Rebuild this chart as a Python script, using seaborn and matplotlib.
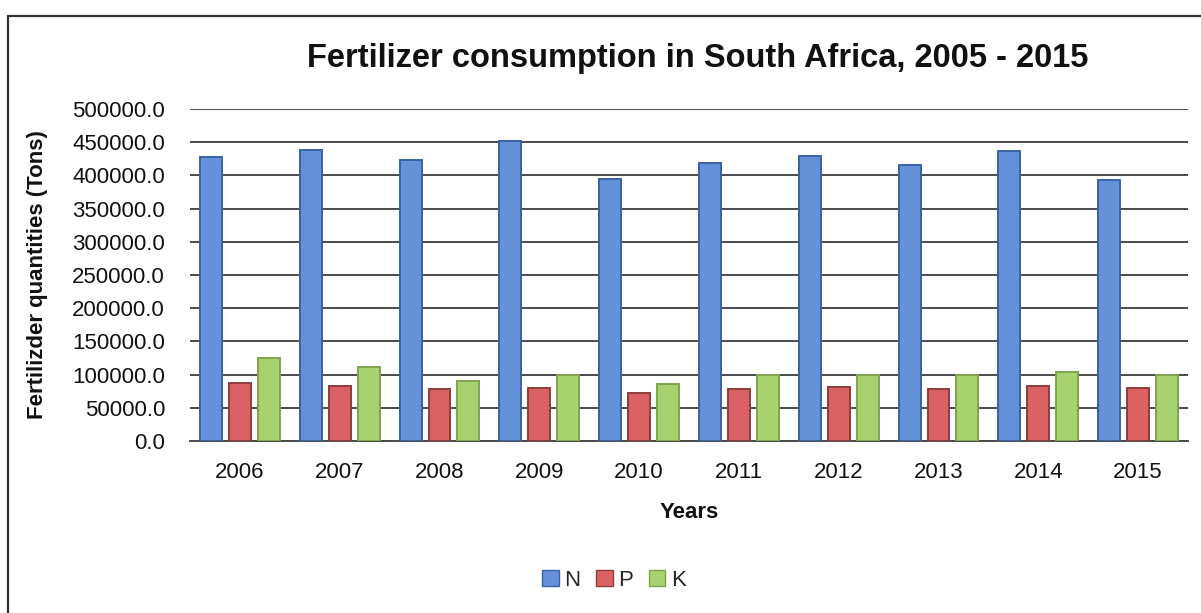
import matplotlib
matplotlib.use("Agg")
import matplotlib.pyplot as plt
from matplotlib.lines import Line2D
from matplotlib.patches import Patch
import seaborn as sns
import pandas as pd

years = ["2006", "2007", "2008", "2009", "2010", "2011", "2012", "2013", "2014", "2015"]
nitrogen = [428000, 438000, 423000, 452000, 394000, 418000, 429000, 416000, 437000, 393000]
phosphorus = [88000, 83000, 79000, 80000, 73000, 79000, 81000, 79000, 83000, 80000]
potassium = [125000, 112000, 90000, 99500, 86000, 100000, 100000, 100000, 104000, 100000]
nutrients = ["N", "P", "K"]
yticks = [0, 50000, 100000, 150000, 200000, 250000, 300000, 350000, 400000, 450000, 500000]

fill_colors = ["#6590DA", "#DA6264", "#A8D26E"]
edge_colors = ["#3A62A3", "#8E3C3B", "#80A350"]

df = pd.DataFrame({
    "Year": years * 3,
    "Nutrient": [n for n in nutrients for _ in years],
    "Tons": nitrogen + phosphorus + potassium,
})

sns.set_theme(style="white")
plt.rcParams["font.family"] = ["Liberation Sans", "DejaVu Sans"]

fig = plt.figure(figsize=(12.01, 6.13), dpi=100)
ax = fig.add_axes([190 / 1201, 1 - 441 / 613, 998 / 1201, 332 / 613])

sns.barplot(data=df, x="Year", y="Tons", hue="Nutrient", order=years,
            hue_order=nutrients, palette=fill_colors, width=0.87, gap=0.24,
            saturation=1, ax=ax, zorder=3)

for container, ec in zip(ax.containers, edge_colors):
    for bar in container:
        bar.set_edgecolor(ec)
        bar.set_linewidth(1.4)

ax.set_ylim(0, 500000)
ax.set_xlim(-0.5, len(years) - 0.5)
ax.set_yticks(yticks)
ax.set_yticklabels([f"{v:.1f}" for v in yticks], fontsize=16, color="#111111")
ax.tick_params(axis="x", labelsize=16, labelcolor="#111111", length=0, pad=15)
ax.tick_params(axis="y", length=0, pad=18)

ax.yaxis.grid(True, color="#4a4a4a", linewidth=1.4, zorder=0)
ax.set_axisbelow(True)
for side in ["top", "right", "left"]:
    ax.spines[side].set_visible(False)
ax.spines["bottom"].set_color("#4a4a4a")
ax.spines["bottom"].set_linewidth(1.4)

ax.set_xlabel("Years", fontsize=16, fontweight="bold", color="#111111", labelpad=14)
ax.set_ylabel("Fertilizder quantities (Tons)", fontsize=16, fontweight="bold",
              color="#111111")
ax.yaxis.set_label_coords(-(190 - 48) / 998, 0.5)

fig.text(698 / 1201, 1 - 58 / 613, "Fertilizer consumption in South Africa, 2005 - 2015",
         ha="center", va="center", fontsize=23.5, fontweight="bold", color="#111111")

if ax.legend_ is not None:
    ax.legend_.remove()
handles = [Patch(facecolor=fc, edgecolor=ec, linewidth=1.0)
           for fc, ec in zip(fill_colors, edge_colors)]
fig.legend(handles, nutrients, loc="center", bbox_to_anchor=(614 / 1201, 1 - 580 / 613),
           ncol=3, frameon=False, fontsize=16, handlelength=0.75, handleheight=0.75,
           handletextpad=0.25, columnspacing=0.7)

# frame around the chart (left and top edges)
fig.add_artist(Line2D([8 / 1201, 8 / 1201], [0, 1 - 16 / 613], transform=fig.transFigure,
                      color="#333333", linewidth=1.6))
fig.add_artist(Line2D([8 / 1201, 1], [1 - 16 / 613, 1 - 16 / 613], transform=fig.transFigure,
                      color="#333333", linewidth=1.6))

fig.savefig("out.png", dpi=100, facecolor="white")
